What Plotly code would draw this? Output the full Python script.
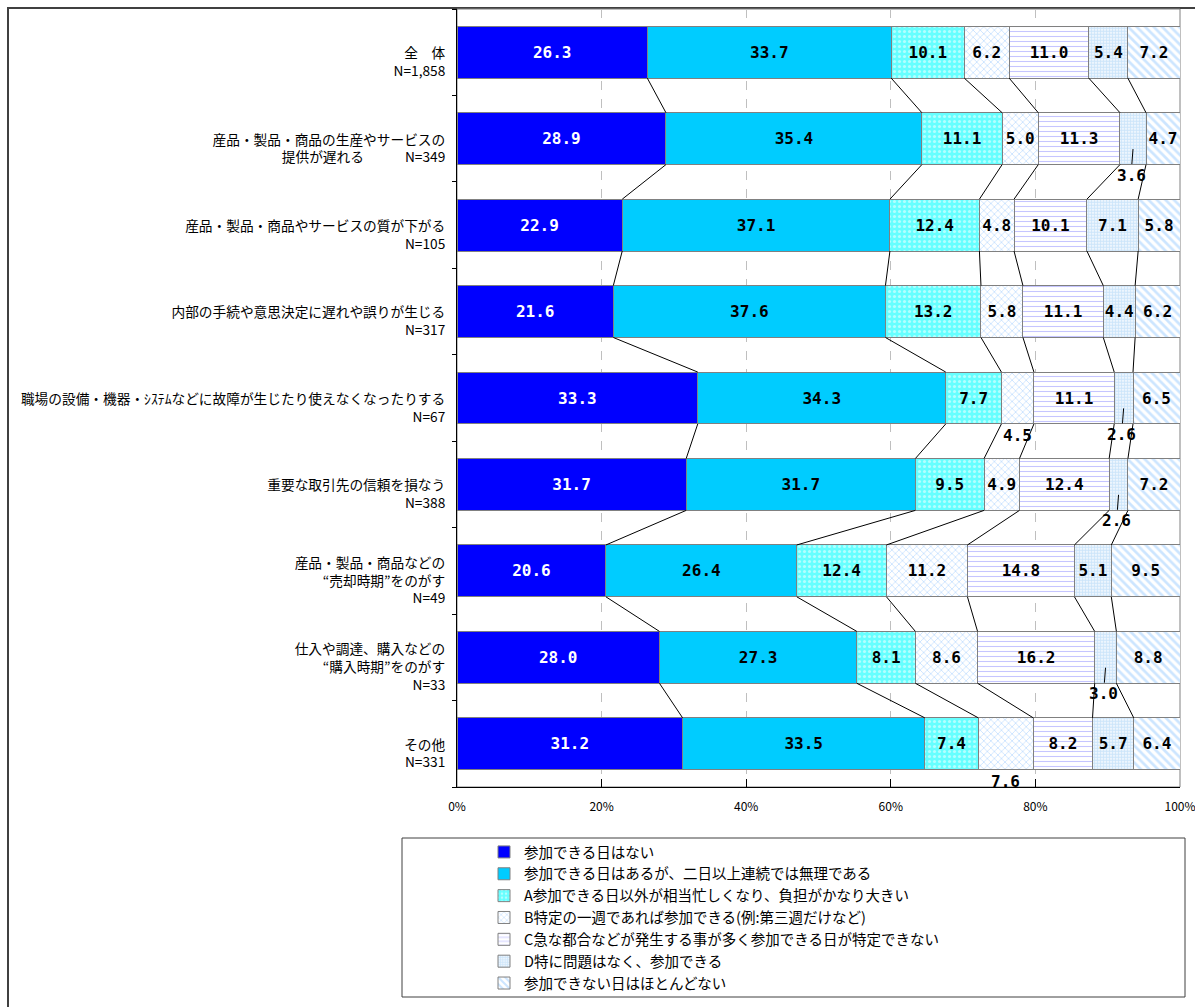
import plotly.graph_objects as go
import numpy as np

categories = [
    "全　体<br>N=1,858",
    "産品・製品・商品の生産やサービスの<br>提供が遅れる　　　N=349",
    "産品・製品・商品やサービスの質が下がる<br>N=105",
    "内部の手続や意思決定に遅れや誤りが生じる<br>N=317",
    "職場の設備・機器・ｼｽﾃﾑなどに故障が生じたり使えなくなったりする<br>N=67",
    "重要な取引先の信頼を損なう<br>N=388",
    "産品・製品・商品などの<br>“売却時期”をのがす<br>N=49",
    "仕入や調達、購入などの<br>“購入時期”をのがす<br>N=33",
    "その他<br>N=331",
]

series_names = [
    "参加できる日はない",
    "参加できる日はあるが、二日以上連続では無理である",
    "A参加できる日以外が相当忙しくなり、負担がかなり大きい",
    "B特定の一週であれば参加できる(例:第三週だけなど)",
    "C急な都合などが発生する事が多く参加できる日が特定できない",
    "D特に問題はなく、参加できる",
    "参加できない日はほとんどない",
]

s_none      = [26.3, 28.9, 22.9, 21.6, 33.3, 31.7, 20.6, 28.0, 31.2]
s_notconsec = [33.7, 35.4, 37.1, 37.6, 34.3, 31.7, 26.4, 27.3, 33.5]
s_A         = [10.1, 11.1, 12.4, 13.2, 7.7, 9.5, 12.4, 8.1, 7.4]
s_B         = [6.2, 5.0, 4.8, 5.8, 4.5, 4.9, 11.2, 8.6, 7.6]
s_C         = [11.0, 11.3, 10.1, 11.1, 11.1, 12.4, 14.8, 16.2, 8.2]
s_D         = [5.4, 3.6, 7.1, 4.4, 2.6, 2.6, 5.1, 3.0, 5.7]
s_almost    = [7.2, 4.7, 5.8, 6.2, 6.5, 7.2, 9.5, 8.8, 6.4]

x_tickvals = [0, 20, 40, 60, 80, 100]
x_ticktext = ["0%", "20%", "40%", "60%", "80%", "100%"]

# labels drawn below the bar: (row, series, with leader line)
outside_labels = [(1, 5, True), (4, 3, False), (4, 5, True), (5, 5, True), (7, 5, True), (8, 3, False)]

series = [s_none, s_notconsec, s_A, s_B, s_C, s_D, s_almost]
styles = [
    dict(color="#0000FF", pattern=None),
    dict(color="#00CCFF", pattern=None),
    dict(color="#66FFFF", pattern=dict(shape=".", fgcolor="white", bgcolor="#66FFFF", size=5, solidity=0.3)),
    dict(color="white", pattern=dict(shape="x", fgcolor="#8FC3FF", bgcolor="white", size=5, solidity=0.3)),
    dict(color="white", pattern=dict(shape="-", fgcolor="#8C8CFF", bgcolor="white", size=5, solidity=0.22)),
    dict(color="white", pattern=dict(shape=".", fgcolor="#9CCBF5", bgcolor="white", size=3, solidity=0.7)),
    dict(color="white", pattern=dict(shape="\\", fgcolor="#99CCFF", bgcolor="white", size=6, solidity=0.45)),
]

n = len(categories)
ypos = list(range(n))
data = np.array(series)  # shape (7, n)
norm = data / data.sum(axis=0) * 100
cum = np.cumsum(norm, axis=0)
starts = cum - norm
outside_set = {(r, s) for r, s, _ in outside_labels}

label_font = dict(family="DejaVu Sans Mono", size=16, color="black", weight="bold")

fig = go.Figure()
bar_w = 0.6
for k, (vals, name, st) in enumerate(zip(series, series_names, styles)):
    texts = ["" if (r, k) in outside_set else f"{v:.1f}" for r, v in enumerate(vals)]
    marker = dict(color=st["color"], line=dict(color="#808080", width=1))
    if st["pattern"]:
        marker["pattern"] = st["pattern"]
    tf = dict(label_font)
    tf["color"] = "white" if k == 0 else "black"
    fig.add_trace(go.Bar(
        y=ypos, x=vals, name=name, orientation="h", width=bar_w,
        marker=marker, text=texts, textposition="inside", insidetextanchor="middle",
        constraintext="none", textangle=0,
        textfont=tf, hoverinfo="skip",
    ))

# series connector lines
lx, ly = [], []
for i in range(n - 1):
    for k in range(len(series) - 1):
        lx += [cum[k, i], cum[k, i + 1], None]
        ly += [i + bar_w / 2, i + 1 - bar_w / 2, None]
fig.add_trace(go.Scatter(x=lx, y=ly, mode="lines", line=dict(color="black", width=1),
                         showlegend=False, hoverinfo="skip"))

annotations = []
for r, k, leader in outside_labels:
    xc = starts[k, r] + norm[k, r] / 2
    txt = f"{series[k][r]:.1f}"
    if leader:
        annotations.append(dict(x=xc, y=r + 0.12, xref="x", yref="y", text=txt, showarrow=True,
                                arrowhead=0, arrowwidth=1, arrowcolor="black", ax=-2, ay=26,
                                font=label_font))
    else:
        annotations.append(dict(x=xc, y=r + bar_w / 2, xref="x", yref="y", text=txt, showarrow=False,
                                yanchor="top", yshift=0, font=label_font))

W, H = 1195, 1007
ml, mr, mt, mb = 457, 15, 9, 220
pw, ph = W - ml - mr, H - mt - mb
def px(x):
    return (x - ml) / pw
def py(y):
    return (H - mb - y) / ph

shapes = [
    dict(type="rect", xref="paper", yref="paper", x0=px(8), x1=px(1300), y0=py(1100), y1=py(8),
         line=dict(color="#404040", width=2), layer="below"),
    dict(type="rect", xref="paper", yref="paper", x0=0, x1=1, y0=0, y1=1,
         line=dict(color="#808080", width=1), layer="below"),
    dict(type="rect", xref="paper", yref="paper", x0=px(402), x1=px(1185), y0=py(997), y1=py(838),
         line=dict(color="#404040", width=1)),
]

fig.update_layout(
    width=W, height=H, margin=dict(l=ml, r=mr, t=mt, b=mb, autoexpand=False),
    barmode="stack", barnorm="percent",
    plot_bgcolor="white", paper_bgcolor="white",
    font=dict(family="Noto Sans CJK JP", color="black"),
    xaxis=dict(range=[0, 100], tickvals=x_tickvals, ticktext=x_ticktext, ticks="inside", ticklen=8,
               tickcolor="black", showline=True, linecolor="black", linewidth=1,
               showgrid=True, gridcolor="#BFBFBF", griddash="dash", gridwidth=1, zeroline=False,
               tickfont=dict(size=12, family="Noto Sans CJK JP"), ticklabelstandoff=9,
               ticklabeloverflow="allow", automargin=False),
    yaxis=dict(range=[n - 0.5, -0.5], tickmode="array", tickvals=ypos, ticktext=categories, ticks="",
               showline=True, linecolor="black", linewidth=1, showgrid=False, zeroline=False,
               tickfont=dict(size=13.7, family="Noto Sans CJK JP"), ticklabelstandoff=8,
               ticklabelshift=-10, automargin=False,
               minor=dict(tickvals=[i + 0.5 for i in range(-1, n)], ticks="outside", ticklen=4, tickcolor="black")),
    legend=dict(x=px(484), y=py(836), xanchor="left", yanchor="top", traceorder="normal",
                font=dict(size=14.5, family="Noto Sans CJK JP"), bgcolor="rgba(0,0,0,0)",
                itemclick=False, tracegroupgap=0),
    annotations=annotations,
    shapes=shapes,
    showlegend=True,
)

fig.write_html("out.html")
